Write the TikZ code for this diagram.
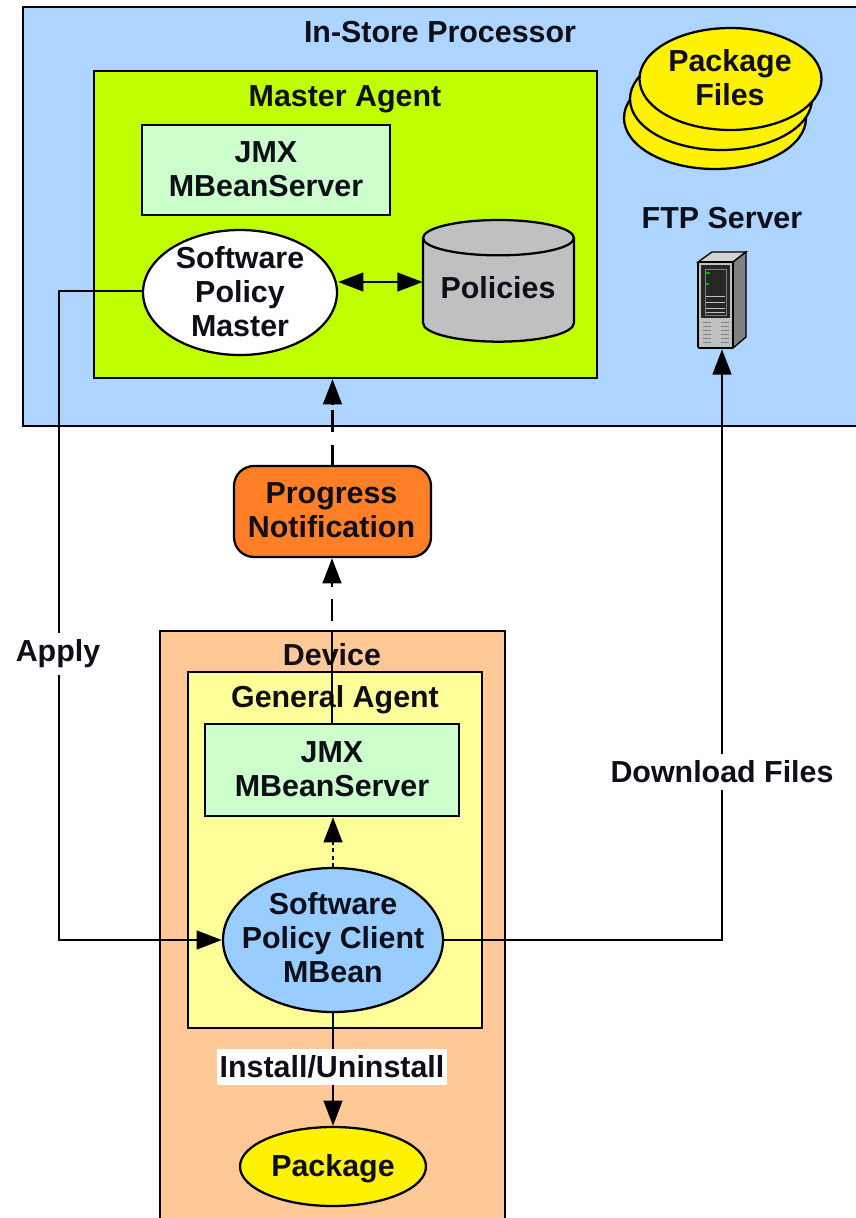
\documentclass[tikz,border=0pt]{standalone}
\usepackage{fontspec}
\setmainfont{Liberation Sans}
\usepackage{tikz}
\usetikzlibrary{arrows.meta}
\usetikzlibrary{shapes.geometric}
\definecolor{storeblue}{RGB}{173,213,255}
\definecolor{agentgreen}{RGB}{191,255,0}
\definecolor{jmxgreen}{RGB}{204,255,204}
\definecolor{progressorange}{RGB}{255,127,39}
\definecolor{devicepeach}{RGB}{255,200,150}
\definecolor{agentyellow}{RGB}{255,255,153}
\definecolor{clientblue}{RGB}{153,204,255}
\definecolor{policygray}{RGB}{192,192,192}
\definecolor{inktext}{RGB}{15,15,25}

\begin{document}
\begin{tikzpicture}[x=0.75pt,y=-0.75pt,>={Triangle[length=19pt,width=14pt]},
  every node/.style={font=\fontsize{22.8}{25.5}\selectfont\bfseries,text=inktext,align=center,inner sep=0pt},
  box/.style={draw=black,line width=1.7pt,rectangle},
  oval/.style={draw=black,line width=1.7pt,ellipse},
  link/.style={line width=1.9pt},
  tag/.style={fill=white,inner xsep=2pt,inner ysep=5pt}]

\clip (0,0) rectangle (856,1218);

\draw [box,fill=storeblue] (23,7) rectangle (890,426);
\draw [box,fill=devicepeach] (160,631) rectangle (505,1250);

\node [box,fill=agentgreen,minimum width=377.25pt,minimum height=230.25pt] (masteragent) at (345.5,224.5) {};
\node [box,fill=jmxgreen,minimum width=186pt,minimum height=67.5pt] (masterjmx) at (266,170) {};
\node (masterjmxlabel) at (266,169) {JMX\\MBeanServer};
\node [oval,fill=white,minimum width=145.5pt,minimum height=93.75pt] (policymaster) at (240,292.5) {};
\node (policymasterlabel) at (240,292) {Software\\Policy\\Master};

\node [minimum width=113.25pt,minimum height=91.5pt] (policies) at (498.5,282) {};
\draw [black,line width=1.7pt,fill=policygray] (423,238) -- (423,323) arc[start angle=180,end angle=360,x radius=56.6pt,y radius=14pt] -- (574,238) arc[start angle=0,end angle=180,x radius=56.6pt,y radius=13.5pt] -- cycle;
\draw [black,line width=1.7pt] (423,238) arc[start angle=180,end angle=360,x radius=56.6pt,y radius=13pt];
\node (policieslabel) at (498,288) {Policies};

\node (storelabel) at (440,32) {In-Store Processor};
\node (masterlabel) at (345,99) {Master Agent};

\node [oval,fill=yellow,minimum width=136.5pt,minimum height=76.5pt] (filesbottom) at (715,118) {};
\node [oval,fill=yellow,minimum width=136.5pt,minimum height=76.5pt] (filesmiddle) at (721,99) {};
\node [oval,fill=yellow,minimum width=136.5pt,minimum height=76.5pt] (filestop) at (730.5,79) {};
\node (fileslabel) at (730,78) {Package\\Files};

\node (ftplabel) at (722,218) {FTP Server};

\node [minimum width=36pt,minimum height=72.75pt] (ftpserver) at (722,300.5) {};
\draw [black,line width=1pt,fill=policygray!70] (698,262) -- (712,252) -- (746,252) -- (733,262) -- cycle;
\draw [black,line width=1pt,fill=gray] (733,262) -- (746,252) -- (746,337) -- (733,348) -- cycle;
\draw [black,line width=1.2pt,rounded corners=1pt,fill=policygray] (698,262) rectangle (733,348);
\fill [black!85] (701,265) rectangle (730,318);
\draw [gray,line width=0.6pt] (705,269) rectangle (726,315);
\fill [green!70!black] (706,272) rectangle (710,274);
\fill [green!70!black] (706,283) rectangle (709,285);
\foreach \y in {296,302,308,312}
  \draw [policygray,line width=0.7pt] (706,\y) -- (725,\y);
\foreach \y in {322,326,330,334,338,342}
  \draw [gray,line width=0.6pt] (703,\y) -- (711,\y) (721,\y) -- (729,\y);

\node [box,fill=progressorange,rounded corners=15pt,minimum width=147.75pt,minimum height=68.25pt] (progress) at (332.5,511.5) {};
\node (progresslabel) at (331.5,510) {Progress\\Notification};

\node [box,fill=agentyellow,minimum width=220.5pt,minimum height=267pt] (generalagent) at (335,850) {};
\node [box,fill=jmxgreen,minimum width=190.5pt,minimum height=69pt] (clientjmx) at (332,770) {};
\node (clientjmxlabel) at (332,769.5) {JMX\\MBeanServer};
\node [oval,fill=clientblue,minimum width=165pt,minimum height=108pt] (policyclient) at (333,940) {};
\node (policyclientlabel) at (333,938) {Software\\Policy Client\\MBean};
\node [oval,fill=yellow,minimum width=139.5pt,minimum height=59.25pt] (package) at (333,1166.5) {};
\node (packagelabel) at (333,1169) {Package};

\node (devicelabel) at (332,655) {Device};
\node (generallabel) at (335,700) {General Agent};

\coordinate (applytop) at (59,291);
\coordinate (applybottom) at (59,940);

\draw [link,<->] (policymaster.east |- policies.west) -- (policies.west);
\draw [link,->] (policymaster.west |- applytop) -- (applytop) -- (applybottom) -- (policyclient.west);
\draw [link,->] (policyclient.east) -| (ftpserver.south);
\draw [link,->] (policyclient.south) -- (package.north);
\draw [link,->,dash pattern=on 3pt off 2.5pt] (policyclient.north) -- (policyclient.north |- clientjmx.south);
\draw [link,->,dash pattern=on 69pt off 7.5pt on 16.5pt off 9pt on 30pt] (clientjmx.north) -- (clientjmx.north |- progress.south);
\draw [link,->,dash pattern=on 15pt off 9.5pt on 16.5pt off 4pt on 30pt] (progress.north) -- (progress.north |- masteragent.south);

\node [tag,fill=white] (applylabel) at (58,654) {Apply};
\node [tag,fill=white] (downloadlabel) at (722,772) {Download Files};
\node [tag,fill=white] (installlabel) at (332,1067) {Install/Uninstall};

\end{tikzpicture}
\end{document}
